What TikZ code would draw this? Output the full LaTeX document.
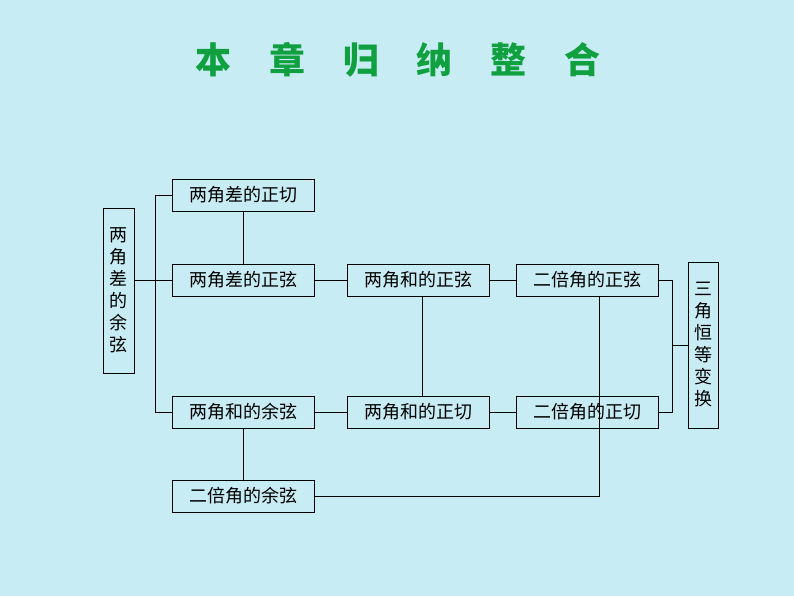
\documentclass[tikz,border=0pt]{standalone}
\usepackage{fontspec}
\setmainfont{Noto Sans CJK SC}
\begin{document}
\begin{tikzpicture}[x=1pt,y=-1pt,
 bx/.style={draw=black,line width=0.8pt,minimum width=142pt,minimum height=32pt,inner sep=0pt,font=\fontsize{18}{18}\selectfont},
 vb/.style={draw=black,line width=0.8pt,inner sep=0pt,align=center,font=\fontsize{18}{22}\selectfont},
 ln/.style={line width=0.8pt}]
\definecolor{bg}{HTML}{C8ECF4}
\definecolor{tg}{HTML}{10A040}
\fill[bg] (0,0) rectangle (794,596);
\useasboundingbox (0,0) rectangle (794,596);
\node[text=tg,font=\fontsize{36}{36}\selectfont\bfseries] (title) at (398,60) {本\hspace{1.05em}章\hspace{1.05em}归\hspace{1.05em}纳\hspace{1.05em}整\hspace{1.05em}合};
\node[vb,minimum width=31pt,minimum height=165pt] (L) at (118.5,290.5) {两\\角\\差\\的\\余\\弦};
\node[vb,minimum width=30pt,minimum height=166pt] (R) at (703,345) {三\\角\\恒\\等\\变\\换};
\node[bx] (a) at (243,195) {两角差的正切};
\node[bx] (b) at (243,280) {两角差的正弦};
\node[bx] (c) at (418.5,280) {两角和的正弦};
\node[bx] (d) at (587.5,280) {二倍角的正弦};
\node[bx] (e) at (243,412) {两角和的余弦};
\node[bx] (f) at (418.5,412) {两角和的正切};
\node[bx] (g) at (587.5,412) {二倍角的正切};
\node[bx] (h) at (243,496) {二倍角的余弦};
\coordinate (j1) at (155,195);
\coordinate (j2) at (155,412);
\coordinate (k1) at (672,280);
\coordinate (k2) at (672,412);
\coordinate (m1) at (422,296);
\coordinate (m2) at (422,396);
\coordinate (n1) at (599,296);
\coordinate (n2) at (599,496);
\draw[ln] (L.east |- b) -- (b.west);
\draw[ln] (a.west) -- (j1) -- (j2) -- (e.west);
\draw[ln] (a.south) -- (b.north);
\draw[ln] (b) -- (c); \draw[ln] (c) -- (d);
\draw[ln] (e) -- (f); \draw[ln] (f) -- (g);
\draw[ln] (m1) -- (m2);
\draw[ln] (e.south) -- (h.north);
\draw[ln] (n1) -- (n2) -- (h.east);
\draw[ln] (d.east) -- (k1) -- (k2) -- (g.east);
\draw[ln] (672,345) -- (R.west);
\end{tikzpicture}
\end{document}
